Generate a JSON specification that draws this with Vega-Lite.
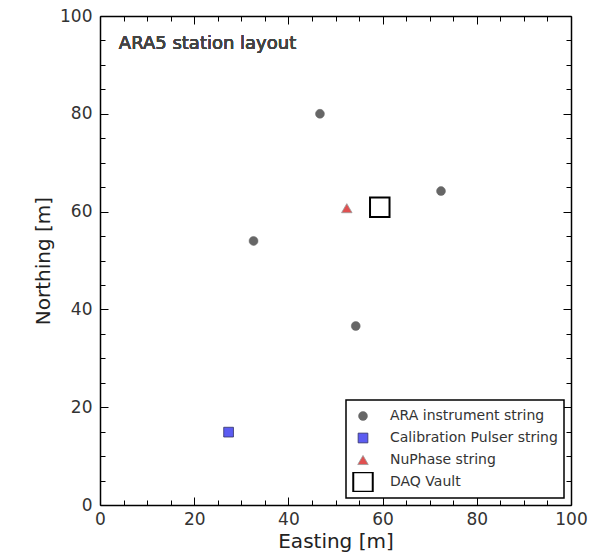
{
  "$schema": "https://vega.github.io/schema/vega-lite/v6.json",
  "autosize": {"type": "none"},
  "padding": {"left": 100, "top": 16, "right": 42, "bottom": 51},
  "width": 471,
  "height": 489,
  "background": "white",
  "config": {
    "view": {"stroke": null},
    "font": "DejaVu Sans",
    "axis": {
      "domainColor": "black",
      "domainWidth": 1.5,
      "tickColor": "black",
      "tickWidth": 1,
      "grid": false,
      "labelFont": "DejaVu Sans",
      "labelFontSize": 17,
      "labelColor": "#333333",
      "titleFont": "DejaVu Sans",
      "titleFontSize": 20,
      "titleFontWeight": "normal",
      "titleColor": "#222222"
    },
    "legend": {
      "orient": "bottom-right",
      "offset": 7,
      "strokeColor": "black",
      "strokeWidth": 1.5,
      "fillColor": "white",
      "padding": 6,
      "labelFont": "DejaVu Sans",
      "labelFontSize": 14,
      "labelColor": "#333333",
      "labelOffset": 16,
      "labelLimit": 400,
      "rowPadding": 2,
      "clipHeight": 20,
      "symbolOpacity": 1
    }
  },
  "data": {
    "values": [
      {"station": "ARA instrument string", "easting": 46.7, "northing": 80.0},
      {"station": "ARA instrument string", "easting": 72.4, "northing": 64.2},
      {"station": "ARA instrument string", "easting": 32.6, "northing": 54.0},
      {"station": "ARA instrument string", "easting": 54.3, "northing": 36.6},
      {"station": "Calibration Pulser string", "easting": 27.3, "northing": 14.9},
      {"station": "NuPhase string", "easting": 52.4, "northing": 60.7},
      {"station": "DAQ Vault", "easting": 59.4, "northing": 60.9}
    ]
  },
  "resolve": {"axis": {"x": "independent", "y": "independent"}},
  "layer": [
    {
      "mark": {"type": "point", "filled": true, "opacity": 1},
      "encoding": {
        "x": {
          "field": "easting", "type": "quantitative",
          "scale": {"domain": [0, 100], "nice": false, "zero": false},
          "axis": {
            "orient": "bottom", "title": "Easting [m]",
            "values": [0,5,10,15,20,25,30,35,40,45,50,55,60,65,70,75,80,85,90,95,100],
            "labelExpr": "datum.value % 20 === 0 ? datum.label : ''",
            "tickSize": {"condition": {"test": "datum.value % 20 === 0", "value": -8}, "value": -5},
            "labelPadding": 14,
            "titlePadding": 1,
            "labelFlush": false,
            "labelOverlap": false
          }
        },
        "y": {
          "field": "northing", "type": "quantitative",
          "scale": {"domain": [0, 100], "nice": false, "zero": false},
          "axis": {
            "orient": "left", "title": "Northing [m]",
            "values": [0,5,10,15,20,25,30,35,40,45,50,55,60,65,70,75,80,85,90,95,100],
            "labelExpr": "datum.value % 20 === 0 ? datum.label : ''",
            "tickSize": {"condition": {"test": "datum.value % 20 === 0", "value": -8}, "value": -5},
            "labelPadding": 16,
            "titlePadding": 6,
            "labelFlush": false,
            "labelOverlap": false
          }
        },
        "shape": {
          "field": "station", "type": "nominal",
          "scale": {"type": "ordinal", "domain": ["ARA instrument string", "Calibration Pulser string", "NuPhase string", "DAQ Vault"], "range": ["circle", "square", "triangle-up", "square"]},
          "legend": {"title": null}
        },
        "fill": {
          "field": "station", "type": "nominal",
          "scale": {"type": "ordinal", "domain": ["ARA instrument string", "Calibration Pulser string", "NuPhase string", "DAQ Vault"], "range": ["#666666", "#5c5cf2", "#e05050", "#ffffff"]},
          "legend": {"title": null}
        },
        "stroke": {
          "field": "station", "type": "nominal",
          "scale": {"type": "ordinal", "domain": ["ARA instrument string", "Calibration Pulser string", "NuPhase string", "DAQ Vault"], "range": ["#666666", "#333366", "#999999", "#000000"]},
          "legend": {"title": null}
        },
        "size": {
          "field": "station", "type": "nominal",
          "scale": {"type": "ordinal", "domain": ["ARA instrument string", "Calibration Pulser string", "NuPhase string", "DAQ Vault"], "range": [80, 95, 110, 380]},
          "legend": {"title": null}
        },
        "strokeWidth": {
          "field": "station", "type": "nominal",
          "scale": {"type": "ordinal", "domain": ["ARA instrument string", "Calibration Pulser string", "NuPhase string", "DAQ Vault"], "range": [0.5, 0.8, 0.8, 2]},
          "legend": {"title": null}
        }
      }
    },
    {
      "mark": {"type": "text", "align": "left", "baseline": "middle", "fontSize": 18, "fontWeight": "normal", "font": "DejaVu Sans", "color": "#444444"},
      "encoding": {
        "text": {"value": "ARA5 station layout"},
        "x": {
          "datum": 4, "type": "quantitative",
          "axis": {
            "orient": "top", "title": null, "labels": false,
            "values": [0,5,10,15,20,25,30,35,40,45,50,55,60,65,70,75,80,85,90,95,100],
            "tickSize": {"condition": {"test": "datum.value % 20 === 0", "value": -8}, "value": -5}
          }
        },
        "y": {
          "datum": 94.3, "type": "quantitative",
          "axis": {
            "orient": "right", "title": null, "labels": false,
            "values": [0,5,10,15,20,25,30,35,40,45,50,55,60,65,70,75,80,85,90,95,100],
            "tickSize": {"condition": {"test": "datum.value % 20 === 0", "value": -8}, "value": -5}
          }
        }
      }
    }
  ]
}
